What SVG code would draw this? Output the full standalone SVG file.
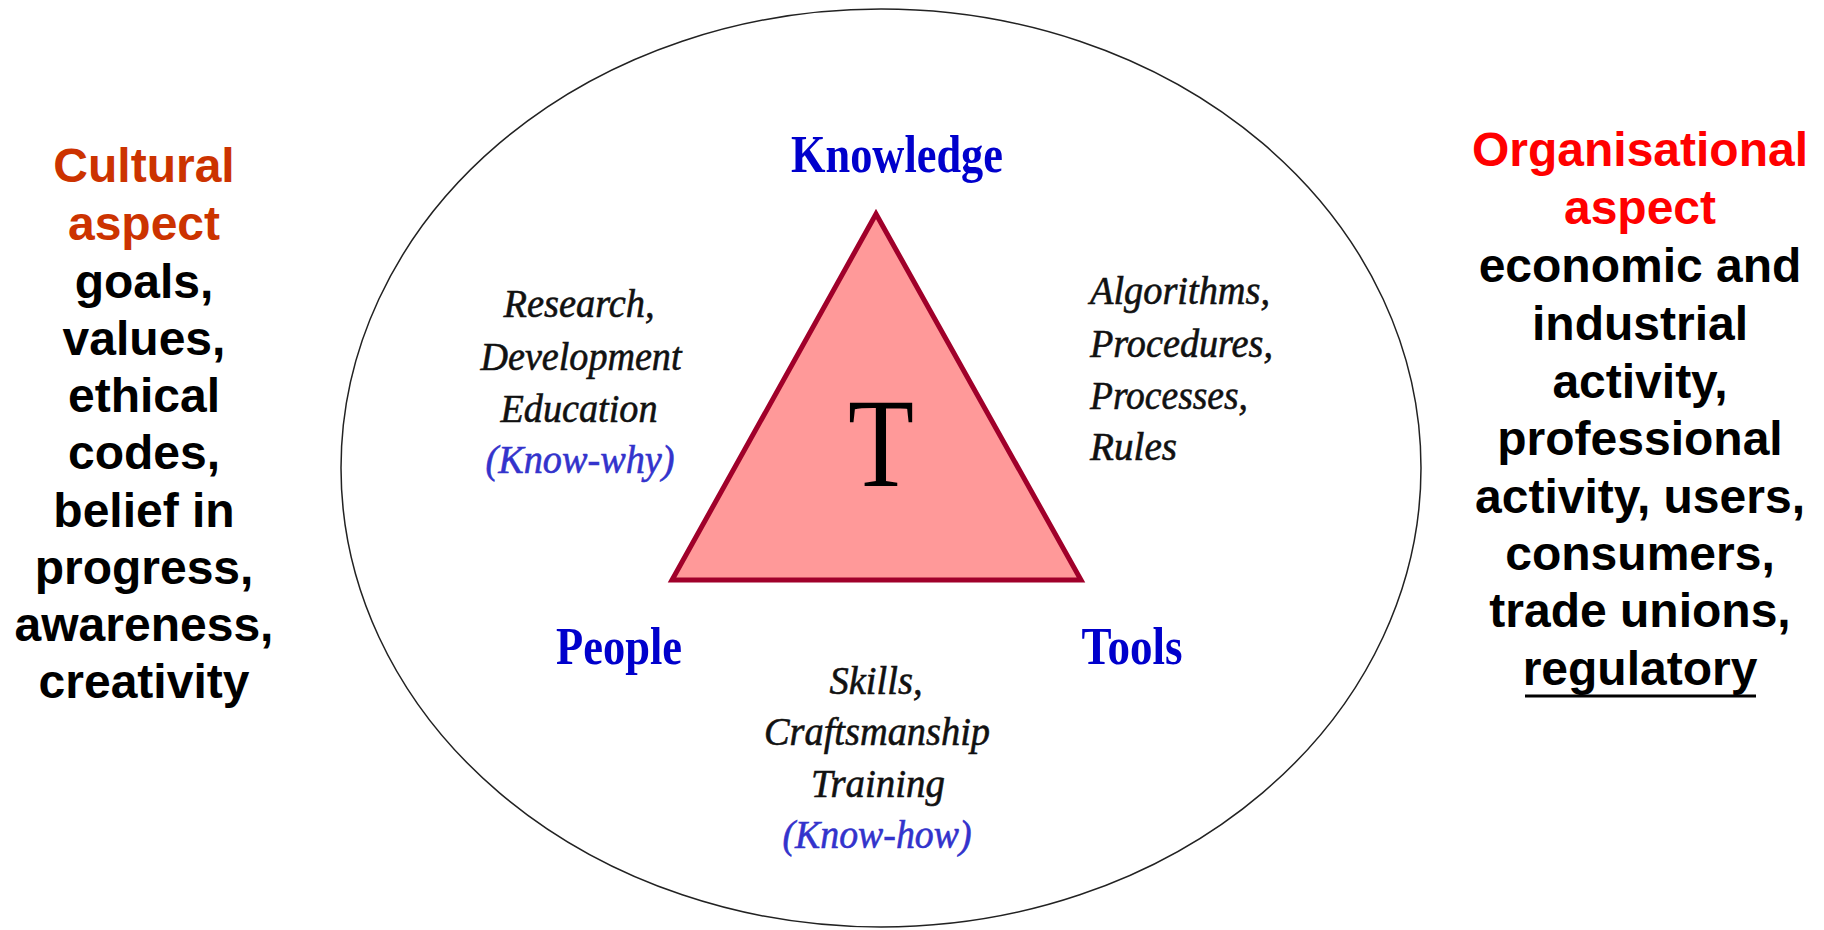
<svg xmlns="http://www.w3.org/2000/svg" width="1824" height="930" viewBox="0 0 1824 930">
<style>
.side{font-family:"Liberation Sans",Arial,sans-serif;font-weight:bold;font-size:48px;text-anchor:middle;fill:#000}
.cul{fill:#CC3300}
.org{fill:#FF0000}
.head{font-family:"Liberation Serif","Times New Roman",serif;font-weight:bold;font-size:53px;fill:#0000CC;text-anchor:middle}
.desc{font-family:"Liberation Serif","Times New Roman",serif;font-style:italic;font-size:41px;fill:#111;stroke:#111;stroke-width:0.6}
.know{fill:#3333CC;stroke:#3333CC}
</style>
<rect width="1824" height="930" fill="#fff"/>
<g id="circle">
<ellipse cx="881" cy="468" rx="540" ry="459" fill="none" stroke="#222" stroke-width="1.5"/>
</g>
<g id="triangle">
<polygon points="876,214 672,580 1081,580" fill="#FF9999" stroke="#A0002A" stroke-width="5" stroke-linejoin="miter"/>
<text x="881" y="486" font-family="Liberation Serif,Times New Roman,serif" font-size="128" text-anchor="middle" textLength="66" lengthAdjust="spacingAndGlyphs">T</text>
</g>
<g id="knowledge"><text class="head" x="897" y="172" textLength="212" lengthAdjust="spacingAndGlyphs">Knowledge</text></g>
<g id="people"><text class="head" x="619" y="664" textLength="126" lengthAdjust="spacingAndGlyphs">People</text></g>
<g id="tools"><text class="head" x="1132" y="664" textLength="101" lengthAdjust="spacingAndGlyphs">Tools</text></g>
<g id="know-why">
<text class="desc" x="579" y="317" text-anchor="middle" textLength="151" lengthAdjust="spacingAndGlyphs">Research,</text>
<text class="desc" x="581" y="370" text-anchor="middle" textLength="201" lengthAdjust="spacingAndGlyphs">Development</text>
<text class="desc" x="579" y="422" text-anchor="middle" textLength="157" lengthAdjust="spacingAndGlyphs">Education</text>
<text class="desc know" x="580" y="473" text-anchor="middle" textLength="189" lengthAdjust="spacingAndGlyphs">(Know-why)</text>
</g>
<g id="rules">
<text class="desc" x="1090" y="304" textLength="180" lengthAdjust="spacingAndGlyphs">Algorithms,</text>
<text class="desc" x="1090" y="357" textLength="183" lengthAdjust="spacingAndGlyphs">Procedures,</text>
<text class="desc" x="1090" y="409" textLength="158" lengthAdjust="spacingAndGlyphs">Processes,</text>
<text class="desc" x="1090" y="460" textLength="87" lengthAdjust="spacingAndGlyphs">Rules</text>
</g>
<g id="know-how">
<text class="desc" x="876" y="694" text-anchor="middle" textLength="93" lengthAdjust="spacingAndGlyphs">Skills,</text>
<text class="desc" x="877" y="745" text-anchor="middle" textLength="226" lengthAdjust="spacingAndGlyphs">Craftsmanship</text>
<text class="desc" x="878" y="797" text-anchor="middle" textLength="134" lengthAdjust="spacingAndGlyphs">Training</text>
<text class="desc know" x="877" y="848" text-anchor="middle" textLength="189" lengthAdjust="spacingAndGlyphs">(Know-how)</text>
</g>
<g id="cultural">
<text class="side cul" x="144" y="182">Cultural</text>
<text class="side cul" x="144" y="240">aspect</text>
<text class="side" x="144" y="298">goals,</text>
<text class="side" x="144" y="355">values,</text>
<text class="side" x="144" y="412">ethical</text>
<text class="side" x="144" y="469">codes,</text>
<text class="side" x="144" y="527">belief in</text>
<text class="side" x="144" y="584">progress,</text>
<text class="side" x="144" y="641">awareness,</text>
<text class="side" x="144" y="698">creativity</text>
</g>
<g id="organisational">
<text class="side org" x="1640" y="166">Organisational</text>
<text class="side org" x="1640" y="224">aspect</text>
<text class="side" x="1640" y="282">economic and</text>
<text class="side" x="1640" y="340">industrial</text>
<text class="side" x="1640" y="398">activity,</text>
<text class="side" x="1640" y="455">professional</text>
<text class="side" x="1640" y="513">activity, users,</text>
<text class="side" x="1640" y="570">consumers,</text>
<text class="side" x="1640" y="627">trade unions,</text>
<text class="side" x="1640" y="685">regulatory</text>
<line x1="1525" y1="696" x2="1756" y2="696" stroke="#000" stroke-width="3"/>
</g>
</svg>
